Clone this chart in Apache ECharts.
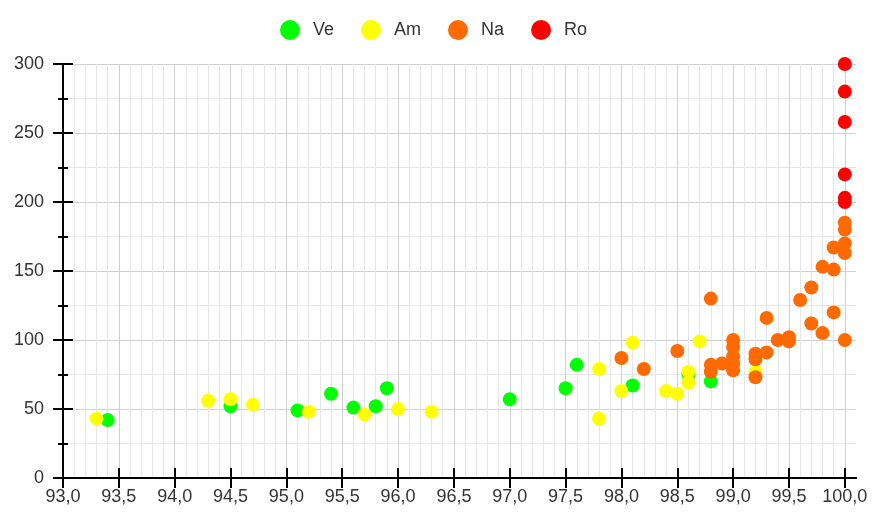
<!DOCTYPE html>
<html>
<head>
<meta charset="utf-8">
<title>Scatter</title>
<script src="https://cdn.jsdelivr.net/npm/echarts@6/dist/echarts.min.js"></script>
</head>
<body style="margin:0">
<div id="main" style="width: 872px; height: 516px;"></div>
<script type="text/javascript">
    // [x, y] points per group
    var ve = [[93.4, 42], [94.5, 52], [95.1, 49], [95.4, 61], [95.6, 51], [95.8, 52], [95.9, 65],
        [97.0, 57], [97.5, 65], [97.6, 82], [98.1, 67], [98.6, 75], [98.8, 70]];
    var am = [[93.3, 43], [94.3, 56], [94.5, 57], [94.7, 53], [95.2, 48], [95.7, 46], [96.0, 50],
        [96.3, 48], [97.8, 79], [97.8, 43], [98.0, 63], [98.1, 98], [98.4, 63], [98.5, 61],
        [98.6, 77], [98.6, 69], [98.7, 99], [99.2, 77]];
    var na = [[98.0, 87], [98.2, 79], [98.5, 92], [98.8, 130], [98.8, 82], [98.8, 77], [98.9, 83],
        [99.0, 100], [99.0, 95], [99.0, 88], [99.0, 83], [99.0, 78], [99.2, 90], [99.2, 86],
        [99.2, 73], [99.3, 91], [99.3, 116], [99.4, 100], [99.5, 102], [99.5, 99], [99.6, 129],
        [99.7, 138], [99.7, 112], [99.8, 105], [99.8, 153], [99.9, 167], [99.9, 151], [99.9, 120],
        [100, 100], [100, 163], [100, 170], [100, 180], [100, 185]];
    var ro = [[100, 200], [100, 203], [100, 220], [100, 258], [100, 280], [100, 300]];

    var names = ['Ve', 'Am', 'Na', 'Ro'];
    var colors = ['#00ff00', '#ffff00', '#ff6a00', '#ff0000'];
    var xTicks = [93, 93.5, 94, 94.5, 95, 95.5, 96, 96.5, 97, 97.5, 98, 98.5, 99, 99.5, 100];

    var font = 'Liberation Sans, Arial, sans-serif';
    var gridPos = { left: 63, right: 16, top: 64, bottom: 38 };
    var axisLine = { show: true, lineStyle: { color: '#000', width: 2 } };

    var chart = echarts.init(document.getElementById('main'));
    chart.setOption({
        animation: false,
        textStyle: { fontFamily: font },
        legend: {
            data: names,
            left: 275,
            top: 15,
            icon: 'circle',
            itemWidth: 20,
            itemHeight: 20,
            itemGap: 27,
            textStyle: { fontSize: 18, color: '#333', fontFamily: font, padding: [0, 0, 0, 8] }
        },
        grid: [
            Object.assign({}, gridPos),
            Object.assign({}, gridPos)
        ],
        xAxis: [{
            type: 'value', gridIndex: 0, min: 93, max: 100.1, interval: 0.5,
            axisLine: axisLine,
            axisTick: { show: true, length: 10, customValues: xTicks, lineStyle: { color: '#000', width: 2 } },
            axisLabel: {
                customValues: xTicks, margin: 10, fontSize: 18, color: '#333',
                formatter: function (v) { return v.toFixed(1).replace('.', ','); }
            },
            splitLine: { show: true, lineStyle: { color: '#cfcfcf', width: 1 } },
            minorTick: { show: false, splitNumber: 5 },
            minorSplitLine: { show: true, lineStyle: { color: '#e6e6e6', width: 1 } }
        }, {
            type: 'value', gridIndex: 1, min: 93, max: 100.1, interval: 0.5,
            axisLine: axisLine,
            axisTick: { show: true, inside: true, length: 10, customValues: xTicks, lineStyle: { color: '#000', width: 2 } },
            axisLabel: { show: false },
            splitLine: { show: false }
        }],
        yAxis: [{
            type: 'value', gridIndex: 0, min: 0, max: 300, interval: 50,
            axisLine: axisLine,
            axisTick: { show: true, length: 10, lineStyle: { color: '#000', width: 2 } },
            minorTick: { show: true, splitNumber: 2, length: 5, lineStyle: { color: '#000', width: 2 } },
            axisLabel: { margin: 19, fontSize: 18, color: '#333' },
            splitLine: { show: true, lineStyle: { color: '#cfcfcf', width: 1 } },
            minorSplitLine: { show: true, lineStyle: { color: '#e6e6e6', width: 1 } }
        }, {
            type: 'value', gridIndex: 1, min: 0, max: 300, interval: 50,
            axisLine: axisLine,
            axisTick: { show: true, inside: true, length: 10, lineStyle: { color: '#000', width: 2 } },
            minorTick: { show: true, splitNumber: 2, length: 5, lineStyle: { color: '#000', width: 2 } },
            axisLabel: { show: false },
            splitLine: { show: false }
        }],
        series: [ve, am, na, ro].map(function (d, i) {
            return {
                name: names[i],
                type: 'scatter',
                xAxisIndex: 0,
                yAxisIndex: 0,
                clip: false,
                symbolSize: 14,
                itemStyle: { color: colors[i], opacity: 1 },
                data: d
            };
        })
    });
</script>
</body>
</html>
